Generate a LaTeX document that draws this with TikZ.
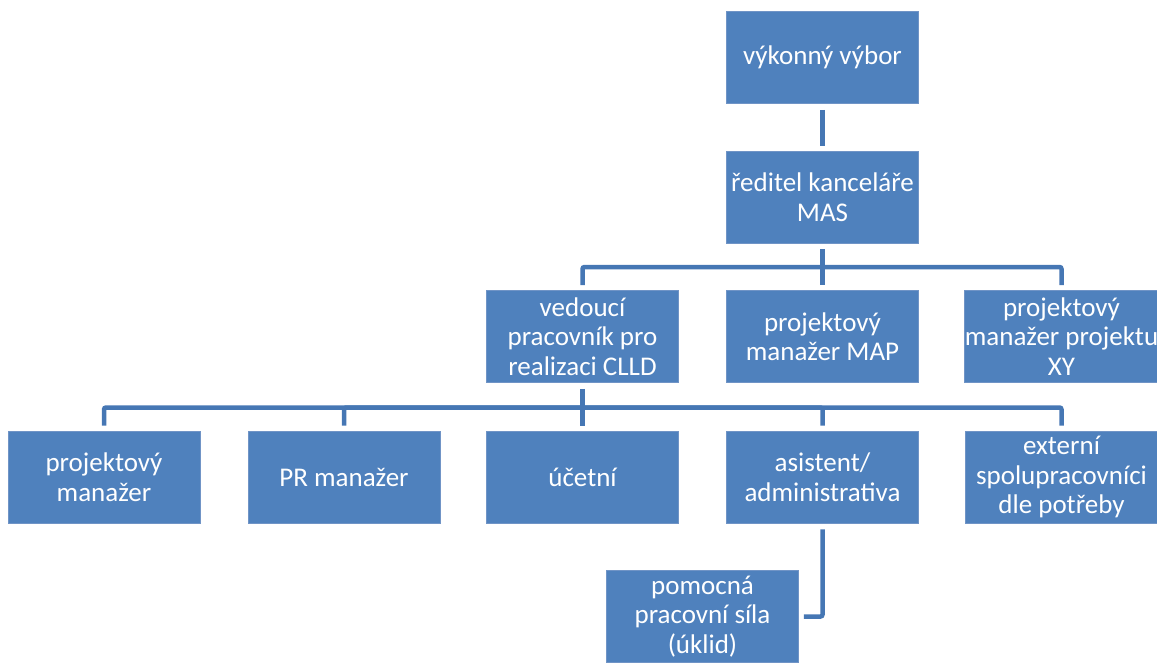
\documentclass[tikz,border=0pt]{standalone}
\usepackage{fontspec}
\setmainfont{Carlito}
\definecolor{boxfill}{HTML}{4F81BD}
\definecolor{boxline}{HTML}{7094C6}
\definecolor{conn}{HTML}{4677B4}
\begin{document}
\begin{tikzpicture}[x=1pt,y=-1pt,
  orgbox/.style={rectangle, fill=boxfill, draw=boxline, line width=0.8pt,
    minimum width=192pt, minimum height=92pt, inner sep=0pt,
    text=white, align=center, font=\fontsize{27}{29.5}\selectfont},
  link/.style={draw=conn, line width=4.5pt, rounded corners=2pt, shorten <=6pt, shorten >=5pt}]
\useasboundingbox (0,0) rectangle (1157,662);
\node[orgbox] (vv) at (822.5,57.5) {výkonný výbor};
\node[orgbox] (rk) at (822.5,197) {ředitel kanceláře\\MAS};
\node[orgbox] (ved) at (582.5,336.5) {vedoucí\\pracovník pro\\realizaci CLLD};
\node[orgbox] (map) at (822.5,336.5) {projektový\\manažer MAP};
\node[orgbox] (xy) at (1061.5,336.5) {projektový\\manažer projektu\\XY};
\node[orgbox] (pm) at (104,477) {projektový\\manažer};
\node[orgbox] (pr) at (344,477) {PR manažer};
\node[orgbox] (uc) at (582.5,477) {účetní};
\node[orgbox] (as) at (822.5,477) {asistent/\\administrativa};
\node[orgbox] (ext) at (1061.5,477) {externí\\spolupracovníci\\dle potřeby};
\node[orgbox] (pom) at (702.5,616.5) {pomocná\\pracovní síla\\(úklid)};
\coordinate (b1) at (822.5,267);
\coordinate (b2) at (582.5,407.5);
\draw[link] (vv.south) -- (rk.north);
\draw[link, shorten >=0pt] (rk.south) -- (b1);
\foreach \n in {ved,map,xy} \draw[link, shorten <=0pt] (b1) -| (\n.north);
\draw[link, shorten >=0pt] (ved.south) -- (b2);
\foreach \n in {pm,pr,uc,as,ext} \draw[link, shorten <=0pt] (b2) -| (\n.north);
\draw[link] (as.south) |- (pom.east);
\end{tikzpicture}
\end{document}
